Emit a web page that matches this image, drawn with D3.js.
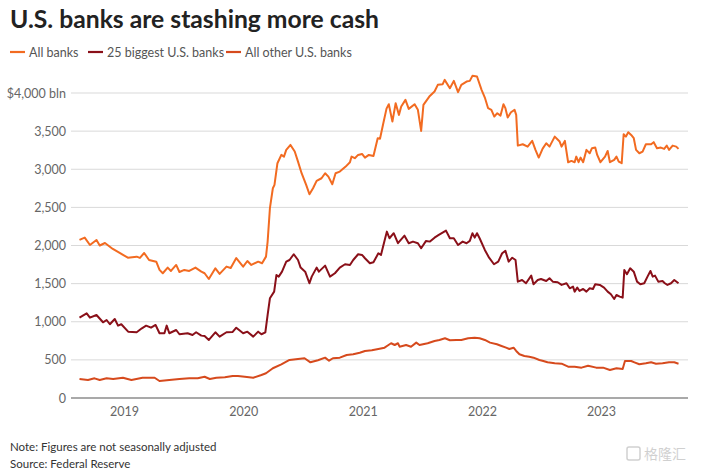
<!DOCTYPE html>
<html><head><meta charset="utf-8">
<script src="https://cdn.jsdelivr.net/npm/d3@7"></script>
<style>
body{margin:0;background:#fff;}
svg{display:block;font-family:Lato,"Noto Sans",sans-serif;}
</style></head>
<body><svg id="c" width="705" height="474"></svg>
<script>
const seriesNames = ["All banks", "25 biggest U.S. banks", "All other U.S. banks"];
const seriesColors = ["#f26b21", "#8a1019", "#d64a1d"];
const yTicks = [0, 500, 1000, 1500, 2000, 2500, 3000, 3500, 4000];
const xTickYears = ["2019", "2020", "2021", "2022", "2023"];

const allDates = ["2018-08-18","2018-09-03","2018-09-19","2018-10-09","2018-10-19","2018-11-04","2018-11-28","2018-12-19","2019-01-13","2019-02-09","2019-02-19","2019-03-04","2019-03-19","2019-04-10","2019-04-20","2019-04-30","2019-05-15","2019-05-25","2019-06-10","2019-06-20","2019-07-05","2019-07-20","2019-08-08","2019-08-26","2019-09-05","2019-09-18","2019-10-08","2019-10-21","2019-11-11","2019-11-24","2019-12-11","2020-01-01","2020-01-14","2020-01-26","2020-02-16","2020-02-28","2020-03-11","2020-03-16","2020-03-23","2020-04-01","2020-04-06","2020-04-15","2020-04-27","2020-05-05","2020-05-12","2020-05-25","2020-06-07","2020-06-17","2020-06-28","2020-07-12","2020-07-22","2020-08-02","2020-08-13","2020-08-28","2020-09-08","2020-09-18","2020-09-30","2020-10-10","2020-10-23","2020-11-10","2020-11-23","2020-11-28","2020-12-08","2020-12-18","2020-12-30","2021-01-08","2021-01-20","2021-02-03","2021-02-16","2021-02-23","2021-03-05","2021-03-15","2021-03-22","2021-04-02","2021-04-12","2021-04-22","2021-04-29","2021-05-12","2021-05-22","2021-06-09","2021-06-19","2021-06-29","2021-07-06","2021-07-24","2021-08-09","2021-08-19","2021-09-03","2021-09-09","2021-09-25","2021-10-07","2021-10-20","2021-10-30","2021-11-15","2021-11-25","2021-12-03","2021-12-17","2021-12-31","2022-01-10","2022-01-20","2022-01-30","2022-02-08","2022-02-17","2022-02-27","2022-03-08","2022-03-14","2022-03-21","2022-03-31","2022-04-11","2022-04-16","2022-04-21","2022-05-06","2022-05-21","2022-06-04","2022-06-14","2022-06-24","2022-07-06","2022-07-17","2022-07-27","2022-08-12","2022-08-27","2022-09-02","2022-09-12","2022-09-22","2022-10-02","2022-10-12","2022-10-17","2022-10-24","2022-10-30","2022-11-07","2022-11-17","2022-11-27","2022-12-04","2022-12-14","2022-12-20","2022-12-30","2023-01-13","2023-01-21","2023-01-28","2023-02-10","2023-02-17","2023-02-24","2023-03-05","2023-03-11","2023-03-18","2023-03-25","2023-04-03","2023-04-11","2023-04-18","2023-04-28","2023-05-08","2023-05-18","2023-06-03","2023-06-11","2023-06-21","2023-07-03","2023-07-13","2023-07-21","2023-07-28","2023-08-08","2023-08-19","2023-08-26"];
const allValues = [2073,2103,2007,2073,2000,2033,1955,1902,1840,1854,1837,1902,1810,1788,1680,1636,1710,1666,1745,1653,1680,1666,1710,1657,1636,1561,1701,1627,1723,1705,1835,1723,1797,1745,1788,1767,1854,2051,2489,2751,2795,3079,3188,3166,3254,3319,3232,3100,2948,2795,2672,2751,2847,2882,2948,2903,2803,2948,2969,3035,3092,3166,3145,3188,3201,3153,3188,3175,3407,3400,3600,3795,3853,3625,3866,3713,3822,3910,3792,3853,3779,3503,3844,3953,4019,4107,4116,4172,4063,4159,4011,4107,4150,4159,4225,4216,4041,3940,3801,3779,3691,3735,3704,3853,3801,3678,3748,3779,3713,3310,3328,3297,3372,3254,3153,3270,3341,3297,3428,3363,3297,3372,3092,3109,3092,3166,3092,3153,3092,3254,3210,3276,3284,3188,3092,3166,3240,3092,3123,3166,3100,3079,3459,3428,3486,3450,3407,3254,3210,3232,3328,3328,3355,3276,3284,3267,3310,3254,3310,3297,3267];

const bigDates = ["2018-08-18","2018-09-09","2018-09-19","2018-10-09","2018-10-29","2018-11-09","2018-11-19","2018-12-04","2018-12-14","2018-12-24","2019-01-14","2019-02-09","2019-02-25","2019-03-10","2019-03-25","2019-04-08","2019-04-20","2019-05-05","2019-05-12","2019-05-20","2019-06-10","2019-06-20","2019-07-15","2019-07-30","2019-08-10","2019-08-26","2019-09-05","2019-09-18","2019-10-08","2019-10-21","2019-11-11","2019-11-30","2019-12-11","2020-01-01","2020-01-14","2020-02-01","2020-02-16","2020-02-26","2020-03-09","2020-03-16","2020-03-23","2020-04-05","2020-04-12","2020-04-19","2020-04-29","2020-05-12","2020-05-22","2020-06-04","2020-06-17","2020-06-25","2020-07-09","2020-07-22","2020-07-29","2020-08-13","2020-08-20","2020-09-08","2020-09-23","2020-10-08","2020-10-23","2020-11-08","2020-11-23","2020-12-03","2020-12-18","2020-12-30","2021-01-08","2021-01-23","2021-02-03","2021-02-18","2021-02-26","2021-03-07","2021-03-16","2021-03-24","2021-04-06","2021-04-19","2021-05-09","2021-05-22","2021-06-04","2021-06-19","2021-06-29","2021-07-14","2021-07-26","2021-08-09","2021-08-22","2021-09-13","2021-09-25","2021-10-07","2021-10-20","2021-11-03","2021-11-15","2021-11-25","2021-12-03","2021-12-10","2021-12-17","2021-12-25","2022-01-10","2022-01-23","2022-02-07","2022-02-20","2022-03-04","2022-03-14","2022-03-24","2022-04-04","2022-04-14","2022-04-21","2022-05-04","2022-05-16","2022-06-01","2022-06-08","2022-06-21","2022-07-01","2022-07-17","2022-07-27","2022-08-06","2022-08-21","2022-09-02","2022-09-17","2022-09-27","2022-10-07","2022-10-12","2022-10-20","2022-10-27","2022-11-07","2022-11-17","2022-11-27","2022-12-07","2022-12-14","2022-12-28","2023-01-10","2023-01-21","2023-01-31","2023-02-10","2023-02-17","2023-02-27","2023-03-08","2023-03-13","2023-03-21","2023-03-31","2023-04-11","2023-04-21","2023-05-01","2023-05-13","2023-05-23","2023-06-01","2023-06-08","2023-06-15","2023-06-25","2023-07-08","2023-07-15","2023-07-23","2023-08-03","2023-08-13","2023-08-26"];
const bigValues = [1054,1111,1054,1089,993,1023,967,1036,949,967,870,862,914,949,922,958,849,849,949,849,892,836,849,827,862,818,813,761,862,805,862,866,922,849,870,805,870,836,862,1089,1308,1395,1614,1592,1657,1788,1810,1885,1810,1710,1657,1505,1592,1710,1657,1736,1592,1636,1710,1754,1745,1810,1885,1876,1833,1767,1780,1898,1876,2030,2182,2095,2161,2030,2129,2030,2051,2030,1964,2060,2051,2103,2139,2195,2095,2095,2007,2051,2030,2060,2161,2103,2161,2095,1942,1840,1754,1788,1898,1929,1788,1840,1810,1526,1548,1505,1605,1492,1548,1561,1535,1570,1526,1518,1483,1505,1439,1461,1395,1448,1404,1430,1395,1439,1430,1492,1483,1448,1395,1360,1299,1351,1329,1316,1680,1623,1701,1657,1526,1492,1505,1592,1666,1592,1605,1526,1535,1505,1483,1505,1548,1505];

const otherDates = ["2018-08-18","2018-09-13","2018-10-03","2018-10-19","2018-11-09","2018-11-29","2018-12-29","2019-01-24","2019-02-27","2019-04-05","2019-04-20","2019-05-20","2019-06-20","2019-07-20","2019-08-15","2019-09-05","2019-09-21","2019-10-11","2019-11-06","2019-11-30","2019-12-16","2020-01-06","2020-02-01","2020-02-26","2020-03-11","2020-04-01","2020-04-27","2020-05-22","2020-06-17","2020-07-07","2020-07-25","2020-08-17","2020-09-08","2020-09-20","2020-10-02","2020-10-23","2020-11-13","2020-12-03","2020-12-23","2021-01-08","2021-01-29","2021-02-18","2021-03-09","2021-03-21","2021-03-29","2021-04-09","2021-04-19","2021-04-24","2021-05-14","2021-05-29","2021-06-14","2021-06-24","2021-07-19","2021-08-09","2021-08-24","2021-09-10","2021-09-25","2021-10-15","2021-10-30","2021-11-20","2021-12-10","2021-12-25","2022-01-10","2022-01-26","2022-02-16","2022-02-28","2022-03-16","2022-03-26","2022-04-08","2022-04-16","2022-04-26","2022-05-11","2022-05-26","2022-06-08","2022-06-26","2022-07-08","2022-07-21","2022-08-12","2022-09-02","2022-09-22","2022-10-12","2022-11-02","2022-11-22","2022-12-17","2023-01-07","2023-01-28","2023-02-17","2023-03-08","2023-03-15","2023-04-03","2023-04-13","2023-04-28","2023-05-18","2023-06-03","2023-06-18","2023-07-08","2023-07-28","2023-08-13","2023-08-26"];
const otherValues = [249,236,258,236,258,249,266,236,266,266,223,236,249,258,258,279,249,266,272,289,289,279,266,302,324,390,442,499,512,521,468,495,529,489,521,529,564,573,594,617,626,643,660,695,718,695,718,673,695,673,726,695,718,748,761,783,757,761,761,783,791,783,761,726,705,686,660,643,660,617,573,551,542,529,499,485,468,455,450,411,411,398,424,398,398,367,390,380,485,485,468,442,455,468,450,455,468,468,450];

const svg = d3.select("#c");
const parse = d3.timeParse("%Y-%m-%d");
const M = {left: 71, right: 688, top: 93, bottom: 398};

const x = d3.scaleTime()
  .domain([parse("2018-07-23"), parse("2023-09-24")])
  .range([M.left, M.right]);
const y = d3.scaleLinear().domain([0, 4000]).range([M.bottom, M.top]);

// gridlines
svg.append("g").selectAll("line").data(yTicks.filter(d => d > 0)).join("line")
  .attr("x1", M.left).attr("x2", M.right)
  .attr("y1", d => y(d)).attr("y2", d => y(d))
  .attr("stroke", "#d9d9d9").attr("stroke-width", 1);

// y labels
svg.append("g").selectAll("text").data(yTicks).join("text")
  .attr("x", 66).attr("y", d => y(d) + 4.5)
  .attr("text-anchor", "end").attr("font-size", 12.5).attr("fill", "#666")
  .text(d => d === 4000 ? "$4,000 bln" : d3.format(",")(d));

// series
const series = [
  {dates: allDates, values: allValues},
  {dates: bigDates, values: bigValues},
  {dates: otherDates, values: otherValues}
];
const line = d3.line().x(d => x(d[0])).y(d => y(d[1])).curve(d3.curveLinear);
[2, 1, 0].forEach(i => {
  const s = series[i];
  const pts = s.dates.map((d, k) => [parse(d), s.values[k]]);
  svg.append("path").datum(pts).attr("d", line)
    .attr("fill", "none").attr("stroke", seriesColors[i])
    .attr("stroke-width", 2).attr("stroke-linejoin", "round");
});

// baseline
svg.append("line").attr("x1", M.left).attr("x2", M.right)
  .attr("y1", y(0)).attr("y2", y(0)).attr("stroke", "#555").attr("stroke-width", 1.2);

// x axis labels
const xAxis = d3.axisBottom(x)
  .tickValues(xTickYears.map(yr => parse(yr + "-01-01")))
  .tickFormat(d3.timeFormat("%Y")).tickSize(0).tickPadding(9);
const gx = svg.append("g").attr("transform", `translate(0,${y(0)})`).call(xAxis);
gx.select(".domain").remove();
gx.selectAll("text").attr("font-size", 12.5).attr("fill", "#666").attr("font-family", "Lato,'Noto Sans',sans-serif");

// title
const title = svg.append("text").attr("x", 10).attr("y", 28)
  .attr("font-size", 25).attr("font-weight", 700).attr("fill", "#222")
  .text("U.S. banks are stashing more cash");
const tw = title.node().getComputedTextLength();
if (tw > 369) title.attr("textLength", 369).attr("lengthAdjust", "spacingAndGlyphs");

// legend
const legX = [10, 88, 226];
const leg = svg.append("g");
seriesNames.forEach((n, i) => {
  leg.append("line").attr("x1", legX[i]).attr("x2", legX[i] + 15)
    .attr("y1", 52).attr("y2", 52).attr("stroke", seriesColors[i]).attr("stroke-width", 2.2);
  leg.append("text").attr("x", legX[i] + 19).attr("y", 56.5)
    .attr("font-size", 12.5).attr("fill", "#555").text(n);
});

// footer
svg.append("text").attr("x", 10).attr("y", 451).attr("font-size", 11.5).attr("fill", "#333")
  .text("Note: Figures are not seasonally adjusted");
svg.append("text").attr("x", 10).attr("y", 468).attr("font-size", 11.5).attr("fill", "#333")
  .text("Source: Federal Reserve");

// watermark
const wm = svg.append("g").attr("opacity", 0.45);
wm.append("rect").attr("x", 627).attr("y", 447).attr("width", 13).attr("height", 13)
  .attr("rx", 2).attr("fill", "none").attr("stroke", "#999").attr("stroke-width", 1.5);
wm.append("text").attr("x", 644).attr("y", 459).attr("font-size", 14)
  .attr("font-family", "'Noto Sans CJK SC',sans-serif").attr("fill", "#999").text("格隆汇");
</script></body></html>
